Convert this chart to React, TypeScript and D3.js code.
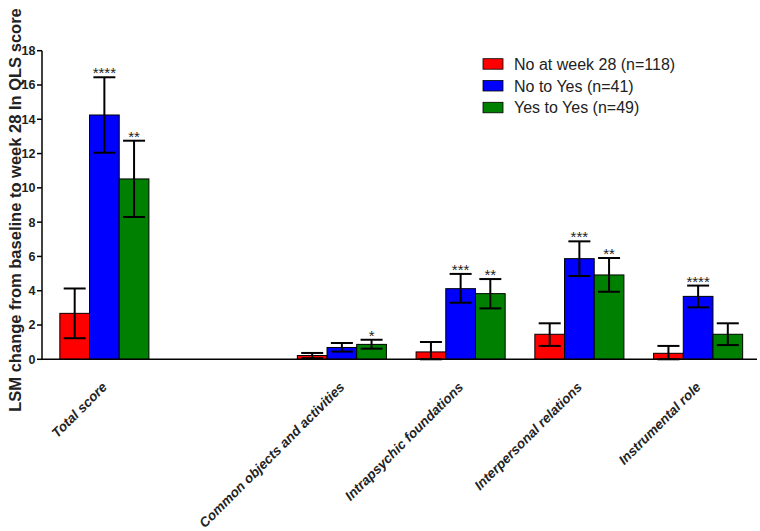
import React from "react";
import * as d3 from "d3";

const categories = ["Total score", "", "Common objects and activities", "Intrapsychic foundations", "Interpersonal relations", "Instrumental role"];
const seriesNames = ["No at week 28 (n=118)", "No to Yes (n=41)", "Yes to Yes (n=49)"];
const colors = ["#ff0000", "#0000ff", "#008000"];
const redValues = [2.68, null, 0.22, 0.43, 1.46, 0.35];
const redLow = [1.23, null, 0.06, 0.0, 0.78, 0.0];
const redHigh = [4.13, null, 0.37, 1.01, 2.1, 0.78];
const blueValues = [14.25, null, 0.69, 4.12, 5.87, 3.67];
const blueLow = [12.05, null, 0.45, 3.3, 4.86, 3.03];
const blueHigh = [16.45, null, 0.95, 4.98, 6.88, 4.3];
const greenValues = [10.52, null, 0.87, 3.83, 4.92, 1.46];
const greenLow = [8.3, null, 0.62, 2.97, 3.94, 0.83];
const greenHigh = [12.75, null, 1.14, 4.68, 5.91, 2.1];
const stars = [
  ["", "", "", "", "", ""],
  ["****", "", "", "***", "***", "****"],
  ["**", "", "*", "**", "**", ""],
];
const yTicks = [0, 2, 4, 6, 8, 10, 12, 14, 16, 18];
const yLabel = "LSM change from baseline to week 28 In QLS score";

const values = [redValues, blueValues, greenValues];
const lows = [redLow, blueLow, greenLow];
const highs = [redHigh, blueHigh, greenHigh];

export default function App() {
  const W = 760, H = 531;
  const font = "Arial, 'Liberation Sans', sans-serif";
  const y = d3.scaleLinear().domain([0, 18]).range([359.3, 50.7]);
  const x = d3.scaleBand<string>().domain(categories.map((c, i) => String(i))).range([45, 757.5]).paddingInner(0.25).paddingOuter(0.125);
  const x1 = d3.scaleBand<string>().domain(["0", "1", "2"]).range([0, x.bandwidth()]);
  const capHalf = 11;
  return (
    <svg width={W} height={H} style={{ position: "absolute", left: 0, top: 0 }} fontFamily={font}>
      {/* bars */}
      {categories.map((c, ci) =>
        [0, 1, 2].map((si) => {
          const v = values[si][ci];
          if (v == null) return null;
          const bx = (x(String(ci)) as number) + (x1(String(si)) as number);
          const bw = x1.bandwidth();
          const cx = bx + bw / 2;
          const lo = lows[si][ci] as number;
          const hi = highs[si][ci] as number;
          return (
            <g key={`${ci}-${si}`}>
              <rect x={bx} y={y(v)} width={bw} height={y(0) - y(v)} fill={colors[si]} stroke="#000" strokeWidth={1} />
              <line x1={cx} x2={cx} y1={y(lo)} y2={y(hi)} stroke="#000" strokeWidth={2} />
              <line x1={cx - capHalf} x2={cx + capHalf} y1={y(hi)} y2={y(hi)} stroke="#000" strokeWidth={2} />
              <line x1={cx - capHalf} x2={cx + capHalf} y1={y(lo)} y2={y(lo)} stroke="#000" strokeWidth={2} />
              {stars[si][ci] && (
                <text x={cx} y={y(hi) + 1} textAnchor="middle" fontSize={15} fill="#222">{stars[si][ci]}</text>
              )}
            </g>
          );
        })
      )}
      {/* axes */}
      <line x1={42} x2={42} y1={y(18)} y2={y(0)} stroke="#000" strokeWidth={1.5} />
      <line x1={42} x2={757} y1={y(0)} y2={y(0)} stroke="#000" strokeWidth={1.5} />
      {yTicks.map((t) => (
        <g key={t}>
          <line x1={37} x2={42} y1={y(t)} y2={y(t)} stroke="#000" strokeWidth={1.5} />
          <text x={35.5} y={y(t)} dy="0.35em" textAnchor="end" fontSize={12.5} fontWeight="bold" fill="#222">{t}</text>
        </g>
      ))}
      <text transform={`translate(21,210) rotate(-90)`} textAnchor="middle" fontSize={16.5} fontWeight="bold" fill="#222">{yLabel}</text>
      {categories.map((c, ci) => {
        if (!c) return null;
        const cx = (x(String(ci)) as number) + x.bandwidth() / 2;
        return (
          <text key={ci} transform={`translate(${cx + 3.5},388) rotate(-45)`} textAnchor="end" fontSize={13.5} fontWeight="bold" fontStyle="italic" fill="#222">{c}</text>
        );
      })}
      {/* legend */}
      {seriesNames.map((s, i) => (
        <g key={s} transform={`translate(483,${58.7 + i * 21.8})`}>
          <rect x={0} y={0} width={20} height={10.5} fill={colors[i]} stroke="#000" strokeWidth={0.8} />
          <text x={31} y={5.5} dy="0.35em" fontSize={16} fill="#222">{s}</text>
        </g>
      ))}
    </svg>
  );
}
